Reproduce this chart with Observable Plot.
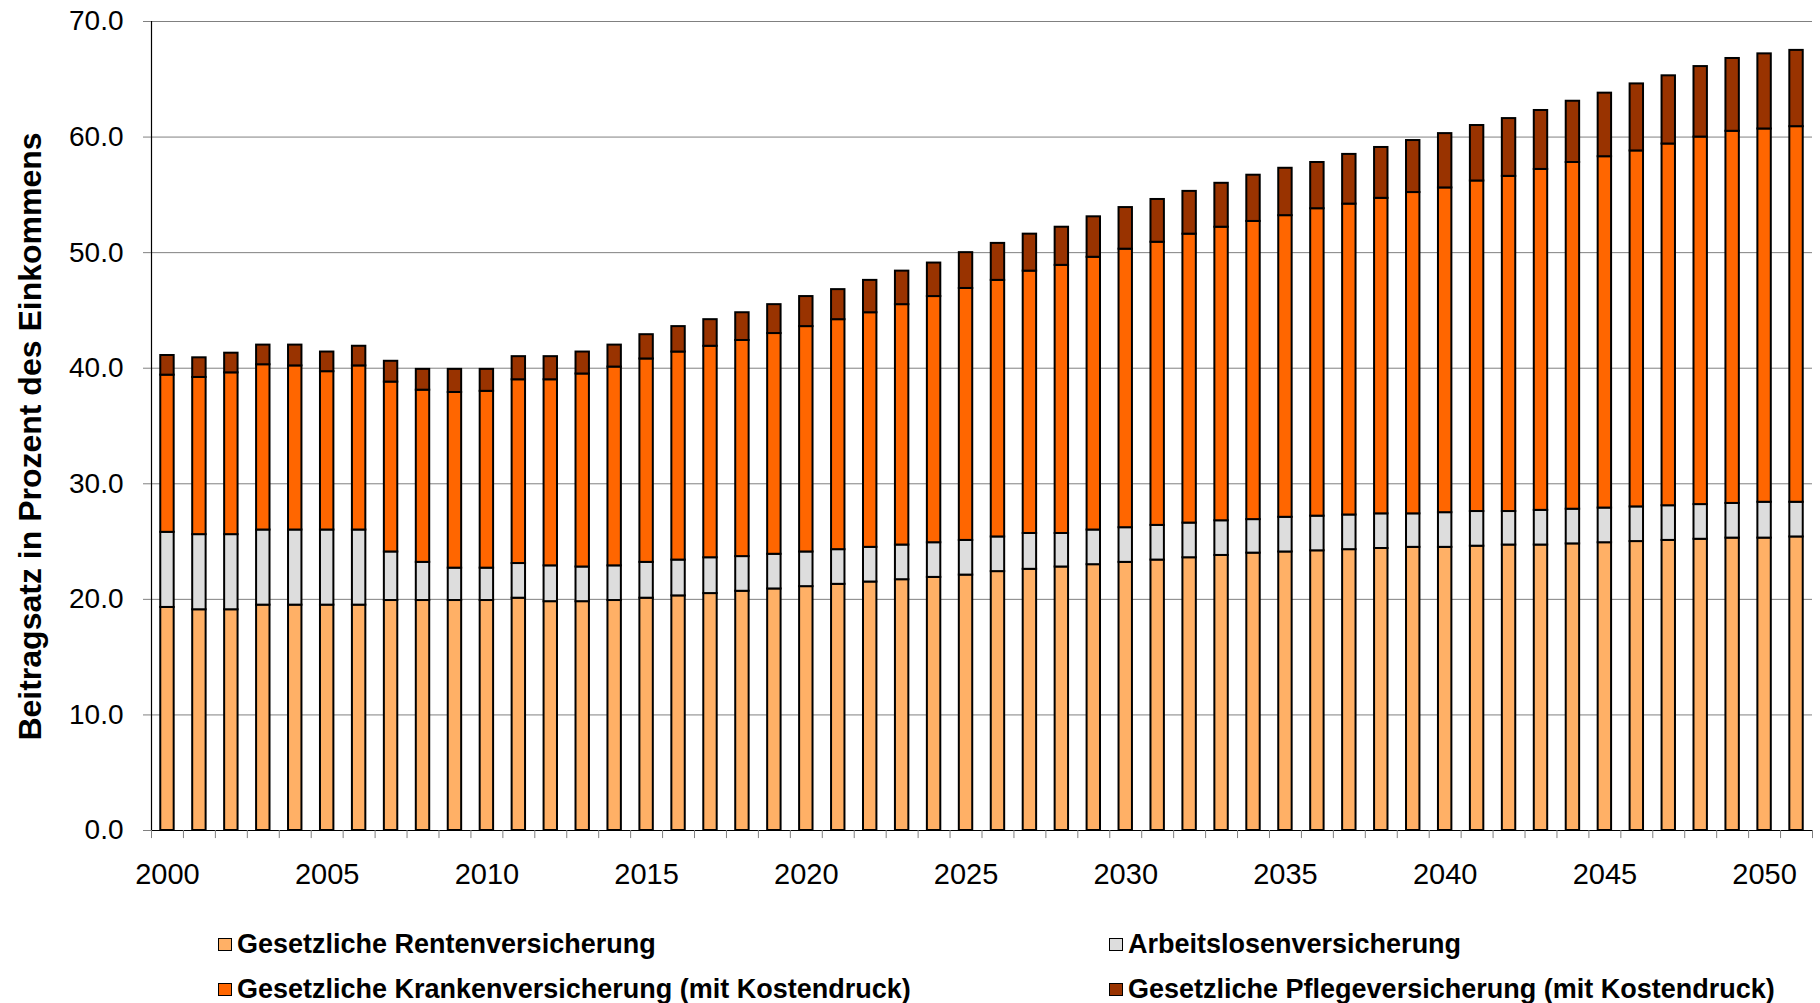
<!DOCTYPE html>
<html>
<head>
<meta charset="utf-8">
<script src="https://cdn.jsdelivr.net/npm/d3@7"></script>
<script src="https://cdn.jsdelivr.net/npm/@observablehq/plot@0.6"></script>
<style>
  html, body { margin: 0; padding: 0; background: #ffffff; }
  body { width: 1820px; height: 1003px; overflow: hidden; font-family: "Liberation Sans", Arial, sans-serif; }
  #chart svg { display: block; }
  #legend { position: relative; height: 93px; }
  .item { position: absolute; display: flex; align-items: center; font-weight: bold; font-size: 27px; color: #000; white-space: nowrap; height: 40px; }
  .sw { width: 12px; height: 11px; border: 1.5px solid #000; margin-right: 5px; }
</style>
</head>
<body>
<div id="chart"></div>
<div id="legend"></div>
<script>
// ---- data ----
const years = [2000,2001,2002,2003,2004,2005,2006,2007,2008,2009,
               2010,2011,2012,2013,2014,2015,2016,2017,2018,2019,
               2020,2021,2022,2023,2024,2025,2026,2027,2028,2029,
               2030,2031,2032,2033,2034,2035,2036,2037,2038,2039,
               2040,2041,2042,2043,2044,2045,2046,2047,2048,2049,
               2050,2051];
const seriesNames = [
  "Gesetzliche Rentenversicherung",
  "Arbeitslosenversicherung",
  "Gesetzliche Krankenversicherung (mit Kostendruck)",
  "Gesetzliche Pflegeversicherung (mit Kostendruck)"
];
const seriesColors = ["#FFB066", "#DDDDDD", "#FF6600", "#993300"];
const rente = [19.3,19.1,19.1,19.5,19.5,19.5,19.5,19.9,19.9,19.9,
               19.9,20.1,19.8,19.8,19.9,20.1,20.3,20.5,20.7,20.9,
               21.1,21.3,21.5,21.7,21.9,22.1,22.4,22.6,22.8,23.0,
               23.2,23.4,23.6,23.8,24.0,24.1,24.2,24.3,24.4,24.5,
               24.5,24.6,24.7,24.7,24.8,24.9,25.0,25.1,25.2,25.3,
               25.3,25.4];
const arbeitslos = [6.5,6.5,6.5,6.5,6.5,6.5,6.5,4.2,3.3,2.8,
                    2.8,3.0,3.1,3.0,3.0,3.1,3.1,3.1,3.0,3.0,
                    3.0,3.0,3.0,3.0,3.0,3.0,3.0,3.1,2.9,3.0,
                    3.0,3.0,3.0,3.0,2.9,3.0,3.0,3.0,3.0,2.9,
                    3.0,3.0,2.9,3.0,3.0,3.0,3.0,3.0,3.0,3.0,
                    3.1,3.0];
const kranken = [13.6,13.6,14.0,14.3,14.2,13.7,14.2,14.7,14.9,15.2,
                 15.3,15.9,16.1,16.7,17.2,17.6,18.0,18.3,18.7,19.1,
                 19.5,19.9,20.3,20.8,21.3,21.8,22.2,22.7,23.2,23.6,
                 24.1,24.5,25.0,25.4,25.8,26.1,26.6,26.9,27.3,27.8,
                 28.1,28.6,29.0,29.5,30.0,30.4,30.8,31.3,31.8,32.2,
                 32.3,32.5];
const pflege = [1.7,1.7,1.7,1.7,1.8,1.7,1.7,1.8,1.8,2.0,
                1.9,2.0,2.0,1.9,1.9,2.1,2.2,2.3,2.4,2.5,
                2.6,2.6,2.8,2.9,2.9,3.1,3.2,3.2,3.3,3.5,
                3.6,3.7,3.7,3.8,4.0,4.1,4.0,4.3,4.4,4.5,
                4.7,4.8,5.0,5.1,5.3,5.5,5.8,5.9,6.1,6.3,
                6.5,6.6];
const xTickLabels = [2000,2005,2010,2015,2020,2025,2030,2035,2040,2045,2050];
const yTicks = [0,10,20,30,40,50,60,70];
const yLabel = "Beitragsatz in Prozent des Einkommens";

// ---- long table for the library ----
const seriesValues = [rente, arbeitslos, kranken, pflege];
const data = [];
years.forEach((yr, i) => {
  seriesNames.forEach((s, k) => data.push({year: yr, series: s, value: seriesValues[k][i]}));
});

// ---- layout ----
const W = 1820, H = 910;
const mL = 151, mR = 8, mT = 21, mB = 80;
const step = (W - mL - mR) / years.length;
const grey = "#808080";

const chart = Plot.plot({
  width: W, height: H,
  marginLeft: mL, marginRight: mR, marginTop: mT, marginBottom: mB,
  style: {fontFamily: "'Liberation Sans', Arial, sans-serif", background: "#ffffff", color: "#000"},
  x: {type: "band", domain: years, paddingInner: 0.58, paddingOuter: 0.29, axis: null},
  y: {domain: [0, 70], axis: null},
  color: {domain: seriesNames, range: seriesColors},
  marks: [
    Plot.gridY(yTicks, {stroke: grey, strokeOpacity: 1, strokeWidth: 1}),
    Plot.barY(data, Plot.stackY({
      x: "year", y: "value", fill: "series", order: seriesNames,
      stroke: "#000", strokeWidth: 2
    })),
    Plot.ruleY([0], {stroke: "#000", strokeWidth: 1.2}),
    Plot.ruleX([years[0]], {y1: 0, y2: 70, dx: -step / 2, stroke: "#000", strokeWidth: 1.2}),
    Plot.ruleX(years, {y1: 0, y2: -0.7, dx: -step / 2, stroke: grey}),
    Plot.ruleX([years[years.length - 1]], {y1: 0, y2: -0.7, dx: step / 2, stroke: grey}),
    Plot.axisY(yTicks, {tickSize: 8, tickPadding: 20, stroke: grey, fontSize: 28, fill: "#000",
      tickFormat: d => d.toFixed(1), label: null}),
    Plot.axisX(xTickLabels, {tickSize: 0, tickPadding: 33, fontSize: 29, fill: "#000", label: null,
      tickFormat: d => String(d)}),
    Plot.text([yLabel], {
      text: d => d, frameAnchor: "left", rotate: -90, textAnchor: "middle", lineAnchor: "middle",
      dx: -121, dy: 10.5, fontSize: 32, fontWeight: "bold", fill: "#000"
    })
  ]
});
document.getElementById("chart").appendChild(chart);

// ---- legend (HTML, below the SVG) ----
const legendPos = [
  {left: 218, top: 14}, {left: 1109, top: 14},
  {left: 218, top: 59}, {left: 1109, top: 59}
];
const legend = d3.select("#legend");
seriesNames.forEach((s, k) => {
  const it = legend.append("div").attr("class", "item")
    .style("left", legendPos[k].left + "px").style("top", legendPos[k].top + "px");
  it.append("div").attr("class", "sw").style("background", seriesColors[k]);
  it.append("span").text(s);
});
</script>
</body>
</html>
